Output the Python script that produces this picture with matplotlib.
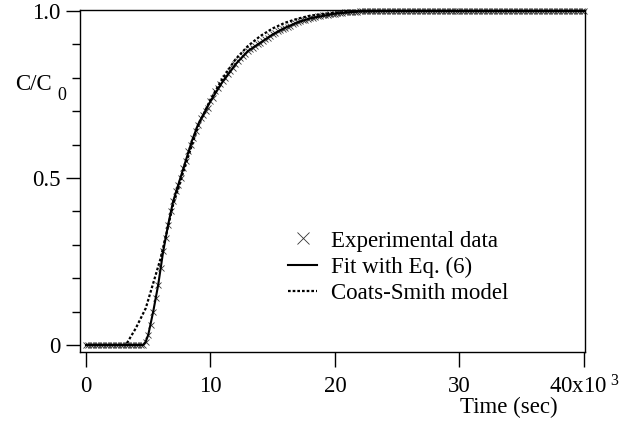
import numpy as np
import matplotlib
matplotlib.use("Agg")
import matplotlib.pyplot as plt

plt.rcParams['font.family'] = ['Liberation Serif', 'DejaVu Serif']
plt.rcParams['mathtext.fontset'] = 'custom'
plt.rcParams['mathtext.rm'] = 'Liberation Serif'
plt.rcParams['mathtext.it'] = 'Liberation Serif'

# breakthrough measurement, sampled every 0.2x10^3 s
t_exp = np.arange(0, 40.01, 0.2)
c_exp = ([0.0] * 23 +
         [0.00, 0.01, 0.03, 0.06, 0.10, 0.14, 0.18, 0.23, 0.28, 0.32,
          0.36, 0.40, 0.43, 0.46, 0.48, 0.50, 0.53, 0.55, 0.58, 0.60,
          0.62, 0.64, 0.66, 0.68, 0.69, 0.70, 0.71, 0.73, 0.74, 0.76,
          0.77, 0.78, 0.79, 0.80, 0.81, 0.82, 0.83, 0.84, 0.85, 0.86,
          0.865, 0.87, 0.88, 0.885, 0.89, 0.895, 0.90, 0.905, 0.91, 0.915,
          0.92, 0.925, 0.93, 0.935, 0.94, 0.943, 0.946, 0.95, 0.953, 0.956,
          0.96, 0.963, 0.966, 0.969, 0.972, 0.974, 0.976, 0.978, 0.980, 0.982,
          0.984, 0.985, 0.987, 0.988, 0.989, 0.990, 0.991, 0.992, 0.993, 0.994,
          0.995, 0.996, 0.996, 0.997, 0.997, 0.998, 0.998, 0.999, 0.999, 0.999])
c_exp = c_exp + [1.0] * (len(t_exp) - len(c_exp))

# fit with Eq. (6)
t_fit = [0, 4.6, 4.8, 5.0, 5.4, 5.8, 6.2, 6.6, 7.0, 7.5, 8.0, 8.5, 9.0,
         10, 11, 12, 13, 14, 15, 16, 17, 18, 20, 22, 24, 26, 40]
c_fit = [0, 0, 0.01, 0.03, 0.10, 0.18, 0.28, 0.36, 0.43, 0.49, 0.55, 0.61, 0.66,
         0.73, 0.79, 0.84, 0.88, 0.905, 0.93, 0.95, 0.966, 0.978, 0.992, 0.999, 1.0, 1.0, 1.0]

# Coats-Smith model
t_cs = [0, 3.2, 3.6, 4.0, 4.4, 4.8, 5.2, 5.6, 6.0, 6.5, 7, 8, 9,
        10, 11, 12, 13, 14, 15, 16, 17, 18, 20, 22, 24, 40]
c_cs = [0, 0, 0.025, 0.05, 0.08, 0.11, 0.16, 0.21, 0.26, 0.34, 0.42, 0.54, 0.655,
        0.735, 0.80, 0.855, 0.895, 0.925, 0.948, 0.965, 0.977, 0.986, 0.995, 0.999, 1.0, 1.0]

fig = plt.figure(figsize=(6.32, 4.28), dpi=100)
ax = fig.add_axes([80 / 632, 1 - 352 / 428, 505 / 632, 342 / 428])

ax.plot(t_exp, c_exp, linestyle='none', marker='x', markersize=5, mew=0.6,
        color='#333333', clip_on=False, label='Experimental data')
ax.plot(t_fit, c_fit, color='black', lw=1.5, label='Fit with Eq. (6)')
ax.plot(t_cs, c_cs, color='black', lw=1.6, linestyle=(0, (1.2, 0.9)),
        label='Coats-Smith model')

ax.set_xlim(-0.48, 40.08)
ax.set_ylim(-0.021, 1.003)

ax.set_xticks([0, 10, 20, 30, 40])
ax.set_xticklabels(['0', '10', '20', '30', r'40x10$^{\ 3}$'])
ax.set_yticks([0, 0.5, 1.0])
ax.set_yticklabels(['0', '0.5', '1.0'])
ax.set_yticks(np.arange(0, 1.01, 0.1), minor=True)
ax.tick_params(axis='x', direction='out', length=11, width=1, pad=6, labelsize=16.5)
ax.tick_params(axis='y', which='major', direction='out', length=10, width=1, pad=4, labelsize=16.5)
ax.tick_params(axis='y', which='minor', direction='out', length=6, width=1)
for sp in ax.spines.values():
    sp.set_linewidth(1)

fig.text(52 / 632, 1 - 85 / 428, 'C/C', ha='right', va='center', fontsize=16.5)
fig.text(57 / 632, 1 - 96 / 428, '0', ha='left', va='center', fontsize=13)
fig.text(509 / 632, 1 - 407 / 428, 'Time (sec)', ha='center', va='center', fontsize=16.5)

ax.legend(loc='upper left', bbox_to_anchor=(277 / 632, 1 - 219 / 428),
          bbox_transform=fig.transFigure, frameon=False, fontsize=16.5,
          handlelength=1.25, handletextpad=0.6, labelspacing=0.22,
          markerscale=1.6, borderpad=0)

fig.savefig('out.png', dpi=100)
